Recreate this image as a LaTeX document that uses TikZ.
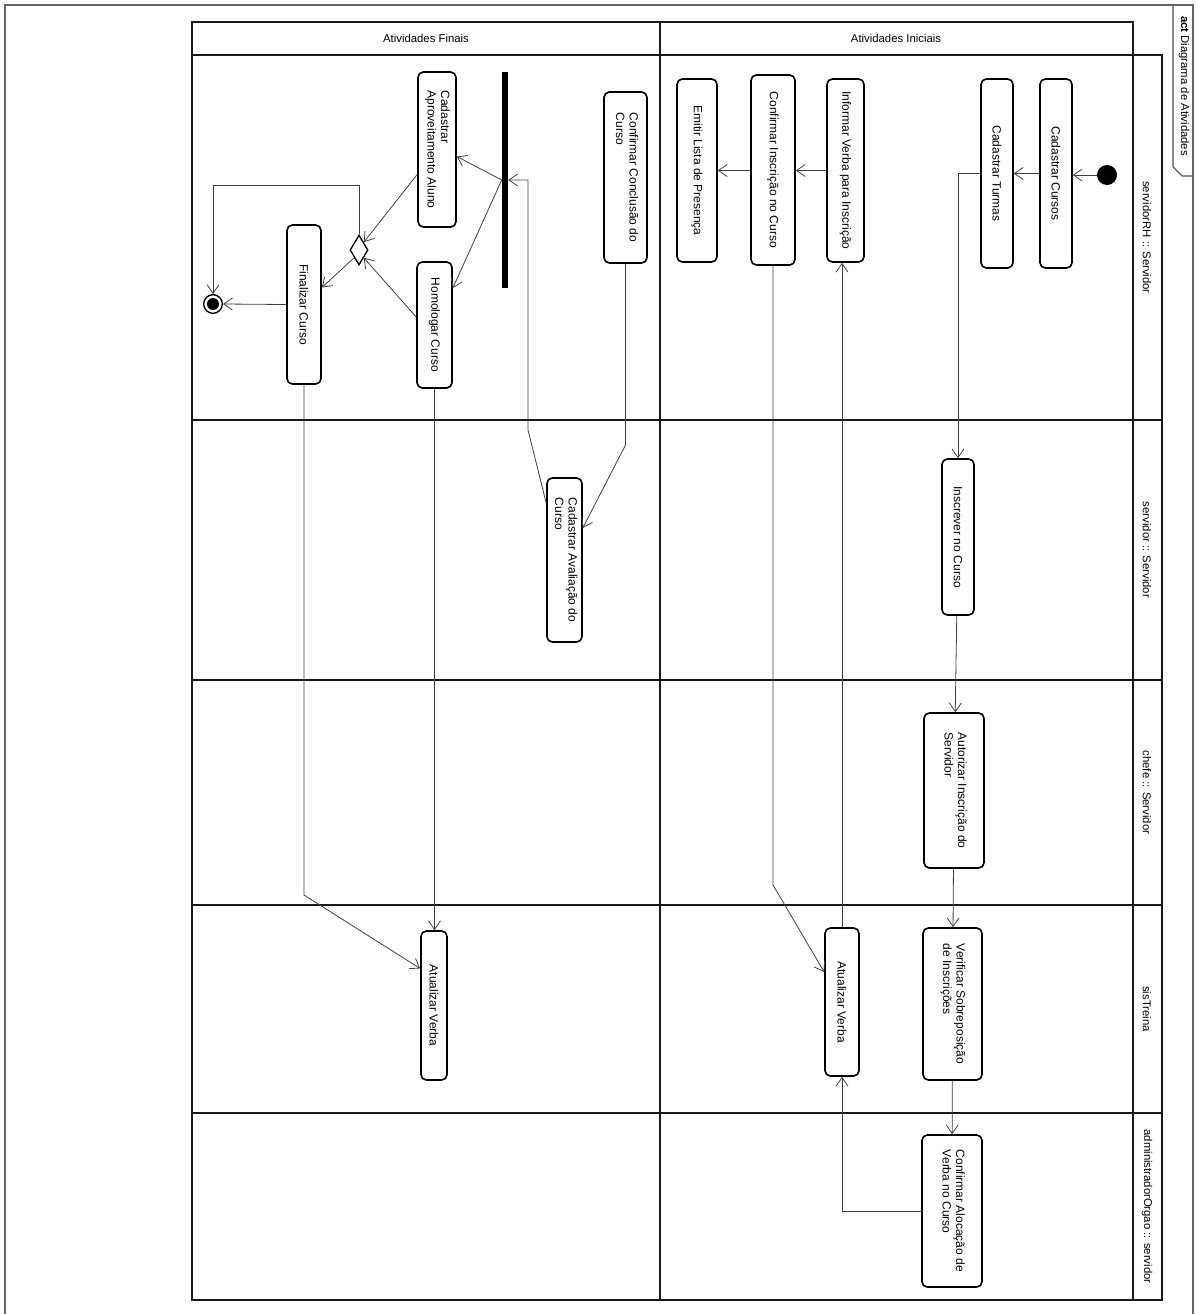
\documentclass[tikz,border=0pt]{standalone}
\usepackage{fontspec}
\setmainfont{Liberation Sans}
\usetikzlibrary{arrows.meta,shapes.geometric,calc}
\begin{document}
\begin{tikzpicture}[x=0.75pt,y=-0.75pt,
  act/.style={draw=black, line width=1.2pt, rounded corners=4pt, fill=white, inner sep=1.5pt, font=\fontsize{9}{10}\selectfont},
  flow/.style={draw=black!75, line width=0.6pt, -{Straight Barb[length=6.5pt,width=9pt,line width=0.6pt]}},
  lane/.style={line width=1.3pt, draw=black!90},
  lbl/.style={font=\fontsize{8.5}{10}\selectfont, inner sep=0pt}
]
\useasboundingbox (0,0) rectangle (1197,1314);

% outer frame and tab
\draw[black!60, line width=0.8pt] (5,1314) -- (5,5) -- (1193,5) -- (1193,1314);
\draw[black!70, line width=0.8pt] (1173,5) -- (1173,167) -- (1182,176) -- (1193,176);
\node[lbl, rotate=-90] (title) at (1184,86) {\textbf{act} Diagrama de Atividades};

% swimlane grid
\draw[lane] (192,22) rectangle (1133,1300);
\draw[lane] (1133,55) rectangle (1162,1300);
\draw[lane] (192,55) -- (1133,55);
\draw[lane] (660,22) -- (660,1300);
\foreach \yy in {420,680,905,1113} { \draw[lane] (192,\yy) -- (1162,\yy); }

% partition and lane headers
\node[lbl] (pFinais) at (426,38) {Atividades Finais};
\node[lbl] (pIniciais) at (896,38) {Atividades Iniciais};
\node[lbl, rotate=-90] (h1) at (1147,237.5) {servidorRH :: Servidor};
\node[lbl, rotate=-90] (h2) at (1147,550) {servidor :: Servidor};
\node[lbl, rotate=-90] (h3) at (1147,792.5) {chefe :: Servidor};
\node[lbl, rotate=-90] (h4) at (1147,1009) {sisTreina};
\node[lbl, rotate=-90] (h5) at (1147,1206.5) {administradorOrgao :: servidor};

% Atividades Iniciais
\node[circle, fill=black, minimum size=15pt, inner sep=0pt] (init) at (1107,175) {};
\node[act, minimum width=24pt, minimum height=141.75pt] (cursos) at (1056,173.5) {\rotatebox{-90}{Cadastrar Cursos}};
\node[act, minimum width=24pt, minimum height=141.75pt] (turmas) at (997,173.5) {\rotatebox{-90}{Cadastrar Turmas}};
\node[act, minimum width=27.75pt, minimum height=137.25pt] (informar) at (845.5,170.5) {\rotatebox{-90}{Informar Verba para Inscrição}};
\node[act, minimum width=33pt, minimum height=142.5pt] (confInscr) at (773,170) {\rotatebox{-90}{Confirmar Inscrição no Curso}};
\node[act, minimum width=30pt, minimum height=137.25pt] (emitir) at (697,170.5) {\rotatebox{-90}{Emitir Lista de Presença}};
\node[act, minimum width=24pt, minimum height=117pt] (inscrever) at (958,537) {\rotatebox{-90}{Inscrever no Curso}};
\node[act, minimum width=45pt, minimum height=116.25pt] (autorizar) at (954,790.5) {\rotatebox{-90}{\begin{tabular}{@{}l@{}}Autorizar Inscrição do\\Servidor\end{tabular}}};
\node[act, minimum width=44.25pt, minimum height=114pt] (verificar) at (952.5,1004) {\rotatebox{-90}{\begin{tabular}{@{}l@{}}Verificar Sobreposição\\de Inscrições\end{tabular}}};
\node[act, minimum width=45pt, minimum height=114pt] (alocacao) at (952,1211) {\rotatebox{-90}{\begin{tabular}{@{}l@{}}Confirmar Alocação de\\Verba no Curso\end{tabular}}};
\node[act, minimum width=25.5pt, minimum height=111pt] (atualizar1) at (842,1002) {\rotatebox{-90}{Atualizar Verba}};

% Atividades Finais
\node[act, minimum width=32.25pt, minimum height=128.25pt] (confConcl) at (625.5,177.5) {\rotatebox{-90}{\begin{tabular}{@{}l@{}}Confirmar Conclusão do\\Curso\end{tabular}}};
\node[act, minimum width=26.25pt, minimum height=123pt] (avaliacao) at (564.5,560) {\rotatebox{-90}{\begin{tabular}{@{}l@{}}Cadastrar Avaliação do\\Curso\end{tabular}}};
\node[fill=black, minimum width=4.5pt, minimum height=162pt, inner sep=0pt] (bar) at (505,180) {};
\node[act, minimum width=28.5pt, minimum height=116.25pt] (aproveit) at (437,149.5) {\rotatebox{-90}{\begin{tabular}{@{}l@{}}Cadastrar\\Aproveitamento Aluno\end{tabular}}};
\node[act, minimum width=26.25pt, minimum height=94.5pt] (homolog) at (434.5,325) {\rotatebox{-90}{Homologar Curso}};
\node[diamond, draw=black, line width=1pt, fill=white, minimum width=13.5pt, minimum height=22.5pt, inner sep=0pt] (dec) at (359,250) {};
\node[act, minimum width=25.5pt, minimum height=119.25pt] (finalizar) at (304,304.5) {\rotatebox{-90}{Finalizar Curso}};
\node[circle, draw=black, line width=1pt, fill=white, minimum size=14pt, inner sep=0pt] (final) at (213,304) {};
\fill[black] (final.center) circle (4.5pt);
\node[act, minimum width=19.5pt, minimum height=111.75pt] (atualizar2) at (434,1005.5) {\rotatebox{-90}{Atualizar Verba}};

% connectors: Atividades Iniciais
\draw[flow] (init) -- (cursos.east |- init);
\draw[flow] (cursos.west) -- (turmas.east);
\draw[flow] (turmas.west) -| (inscrever.north);
\draw[flow] (inscrever) -- (autorizar);
\draw[flow] (autorizar) -- (verificar);
\draw[flow] (verificar) -- (alocacao);
\draw[flow] (alocacao.west) -| (atualizar1.south);
\draw[flow] (atualizar1.north) -- (atualizar1.north |- informar.south);
\draw[flow] (informar.west) -- (confInscr.east |- informar.west);
\draw[flow] (confInscr.west |- emitir.east) -- (emitir.east);
\coordinate (k1) at (773,885);
\draw[flow] (confInscr.south) -- (k1) -- ($(atualizar1.west)+(0,-30)$);

% connectors: Atividades Finais
\coordinate (k2) at (625.5,445);
\draw[flow] (confConcl.south) -- (k2) -- ($(avaliacao.east)+(0,-32)$);
\coordinate (k3) at (528,430);
\coordinate (k4) at (528,180);
\draw[flow] ($(avaliacao.west)+(0,-57)$) -- (k3) -- (k4) -- (bar.east);
\draw[flow] (bar.west) -- ($(aproveit.east)+(0,7)$);
\draw[flow] (bar.west) -- ($(homolog.east)+(0,-37)$);
\draw[flow] ($(aproveit.west)+(0,25)$) -- (dec.north east);
\draw[flow] ($(homolog.west)+(0,-8)$) -- (dec.south east);
\draw[flow] (dec.south west) -- ($(finalizar.east)+(0,-17)$);
\coordinate (k5) at (213,185);
\draw[flow] (dec.north) |- (k5) -- (final.north);
\draw[flow] (finalizar.west) -- (final.east);
\draw[flow] (homolog.south) -- (homolog.south |- atualizar2.north);
\coordinate (k6) at (304,895);
\draw[flow] (finalizar.south) -- (k6) -- ($(atualizar2.west)+(0,-37)$);
\end{tikzpicture}
\end{document}
